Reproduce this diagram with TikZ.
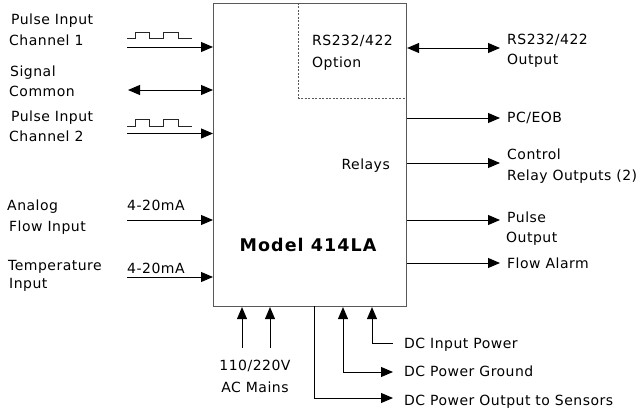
\documentclass[tikz,border=0pt]{standalone}
\usepackage{fontspec}
\setmainfont{DejaVu Sans}[LetterSpace=3.5]
\newfontfamily\boldlbl{DejaVu Sans Bold}[LetterSpace=6]
\usetikzlibrary{arrows.meta}
\begin{document}
\begin{tikzpicture}[x=1pt,y=-1pt,
  lbl/.style={inner sep=0pt, anchor=base west, font=\fontsize{14}{16}\selectfont},
  conn/.style={line width=0.9pt, black},
  arr/.style={conn, -{Triangle[length=12pt,width=10pt]}},
  darr/.style={conn, {Triangle[length=12pt,width=10pt]}-{Triangle[length=12pt,width=10pt]}},
  wave/.style={line width=0.8pt, black!85},
  boxstyle/.style={draw=black!65, line width=1.1pt, inner sep=0pt},
  dashline/.style={draw=black!65, line width=0.9pt, dash pattern=on 2pt off 1.5pt}]
\useasboundingbox (0,0) rectangle (640,409);

% main box
\node[boxstyle, minimum width=193pt, minimum height=303pt, anchor=north west] (main) at (213,3) {};
\coordinate (dtop) at (298,3);
\coordinate (dcorner) at (298,98);
\coordinate (dright) at (406,98);
\draw[dashline] (dtop) -- (dcorner) -- (dright);

% texts inside
\node[lbl] (opt1) at (312,46) {RS232/422};
\node[lbl] (opt2) at (312,68) {Option};
\node[lbl, anchor=base east] (relays) at (390,169) {Relays};
\node[inner sep=0pt, anchor=base, font=\boldlbl\fontsize{17.5}{19}\selectfont] (model) at (308,251) {Model 414LA};

% left labels
\node[lbl] (pi1a) at (11,25) {Pulse Input};
\node[lbl] (pi1b) at (9,46) {Channel 1};
\node[lbl] (sca) at (10,77) {Signal};
\node[lbl] (scb) at (9,97) {Common};
\node[lbl] (pi2a) at (11,122) {Pulse Input};
\node[lbl] (pi2b) at (9,142) {Channel 2};
\node[lbl] (afa) at (7,210) {Analog};
\node[lbl] (afb) at (9,231) {Flow Input};
\node[lbl] (tia) at (8,270) {Temperature};
\node[lbl] (tib) at (9,288) {Input};
\node[lbl] (ma1) at (127,211) {4-20mA};
\node[lbl] (ma2) at (127,273) {4-20mA};

% pulse waveforms
\draw[wave] (127,38.5) -- (135,38.5) -- (135,32.5) -- (149,32.5) -- (149,38.5) -- (163,38.5) -- (163,32.5) -- (178,32.5) -- (178,38.5) -- (192,38.5);
\draw[wave] (127,126.5) -- (135,126.5) -- (135,119) -- (149,119) -- (149,126.5) -- (163,126.5) -- (163,119) -- (178,119) -- (178,126.5) -- (192,126.5);

% left connectors
\coordinate (l1) at (127,47);
\coordinate (l2) at (128,90);
\coordinate (l3) at (127,133.5);
\coordinate (l4) at (127,220);
\coordinate (l5) at (127,277);
\draw[arr] (l1) -- (main.west |- l1);
\draw[darr] (l2) -- (main.west |- l2);
\draw[arr] (l3) -- (main.west |- l3);
\draw[arr] (l4) -- (main.west |- l4);
\draw[arr] (l5) -- (main.west |- l5);

% right labels
\node[lbl] (rsa) at (507,45) {RS232/422};
\node[lbl] (rsb) at (507,65) {Output};
\node[lbl] (pc) at (507,123) {PC/EOB};
\node[lbl] (cra) at (507,160) {Control};
\node[lbl] (crb) at (507,180) {Relay Outputs (2)};
\node[lbl] (poa) at (507,222) {Pulse};
\node[lbl] (pob) at (506,242) {Output};
\node[lbl] (fa) at (507,268) {Flow Alarm};

% right connectors
\coordinate (r1) at (500,48);
\coordinate (r2) at (500,118);
\coordinate (r3) at (500,163);
\coordinate (r4) at (500,220);
\coordinate (r5) at (500,263);
\draw[darr] (main.east |- r1) -- (r1);
\draw[arr] (main.east |- r2) -- (r2);
\draw[arr] (main.east |- r3) -- (r3);
\draw[arr] (main.east |- r4) -- (r4);
\draw[arr] (main.east |- r5) -- (r5);

% bottom labels
\node[lbl, anchor=base] (aca) at (255,370) {110/220V};
\node[lbl, anchor=base] (acb) at (255,392) {AC Mains};
\node[lbl] (dci) at (404,348) {DC Input Power};
\node[lbl] (dcg) at (404,376) {DC Power Ground};
\node[lbl] (dco) at (404,405) {DC Power Output to Sensors};

% bottom connectors
\coordinate (b1) at (242,348);
\coordinate (b2) at (270,348);
\draw[arr] (b1) -- (b1 |- main.south);
\draw[arr] (b2) -- (b2 |- main.south);

\coordinate (so) at (314,306);
\coordinate (soc) at (314,398);
\coordinate (soe) at (393,398);
\draw[arr] (so) -- (soc) -- (soe);

\coordinate (gc) at (343,372);
\coordinate (ge) at (393,372);
\draw[darr] (gc |- main.south) -- (gc) -- (ge);

\coordinate (ic) at (372,343);
\coordinate (ie) at (393,343);
\draw[conn, {Triangle[length=12pt,width=10pt]}-] (ic |- main.south) -- (ic) -- (ie);
\end{tikzpicture}
\end{document}
